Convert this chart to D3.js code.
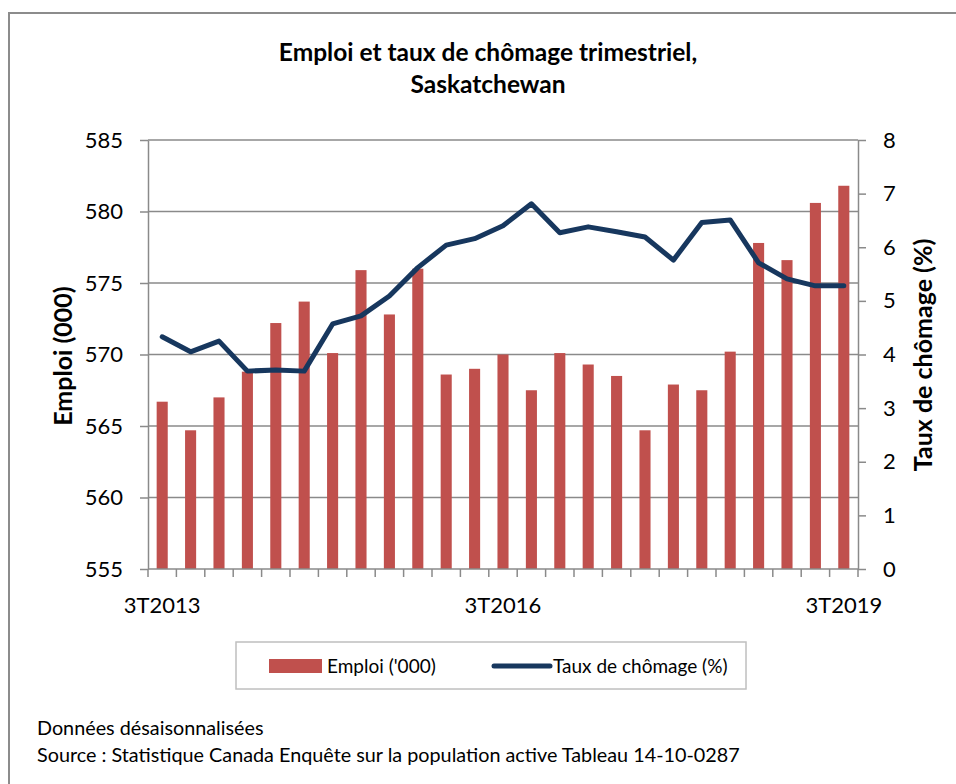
<!DOCTYPE html>
<html>
<head>
<meta charset="utf-8">
<script src="https://cdn.jsdelivr.net/npm/d3@7"></script>
<style>
  body { margin: 0; background: #fff; }
  text { font-family: Lato, "Open Sans", sans-serif; fill: #000; }
</style>
</head>
<body>
<div id="chart"></div>
<script>
// quarters, 3T2013 .. 3T2019
const quarters = [
    '3T2013', '4T2013', '1T2014', '2T2014', '3T2014', '4T2014', '1T2015', '2T2015', '3T2015',
    '4T2015', '1T2016', '2T2016', '3T2016', '4T2016', '1T2017', '2T2017', '3T2017', '4T2017',
    '1T2018', '2T2018', '3T2018', '4T2018', '1T2019', '2T2019', '3T2019'
];
const emploi = [
    566.7, 564.7, 567.0, 568.8, 572.2, 573.7, 570.1, 575.9, 572.8,
    576.0, 568.6, 569.0, 570.0, 567.5, 570.1, 569.3, 568.5, 564.7,
    567.9, 567.5, 570.2, 577.8, 576.6, 580.6, 581.8
];
const chomage = [
    4.33, 4.05, 4.25, 3.69, 3.71, 3.69, 4.57, 4.72, 5.09,
    5.62, 6.04, 6.16, 6.40, 6.81, 6.27, 6.38, 6.29, 6.19,
    5.76, 6.46, 6.51, 5.71, 5.41, 5.28, 5.28
];
const shownLabels = ['3T2013', '3T2016', '3T2019'];
const leftTicks = [555, 560, 565, 570, 575, 580, 585];
const rightTicks = [0, 1, 2, 3, 4, 5, 6, 7, 8];

const W = 956, H = 784;
const m = { top: 140, right: 98, bottom: 215, left: 148 };
const w = W - m.left - m.right, h = H - m.top - m.bottom;

const svg = d3.select('#chart').append('svg')
    .attr('width', W).attr('height', H);

// frame
svg.append('path')
    .attr('d', `M9,${H} V13 H${W}`)
    .attr('fill', 'none').attr('stroke', '#8c8c8c').attr('stroke-width', 2);

svg.append('text').attr('x', 488).attr('y', 61).attr('text-anchor', 'middle')
    .style('font-size', '24.5px').style('font-weight', 'bold')
    .text('Emploi et taux de chômage trimestriel,');
svg.append('text').attr('x', 488).attr('y', 93).attr('text-anchor', 'middle')
    .style('font-size', '24.5px').style('font-weight', 'bold')
    .text('Saskatchewan');

const g = svg.append('g').attr('transform', `translate(${m.left},${m.top})`);

const x = d3.scaleBand().domain(quarters).range([0, w]).paddingInner(0.61).paddingOuter(0.305);
const yL = d3.scaleLinear().domain([555, 585]).range([h, 0]);
const yR = d3.scaleLinear().domain([0, 8]).range([h, 0]);

// gridlines
g.selectAll('.grid').data(leftTicks.slice(1)).enter().append('line')
    .attr('x1', 0).attr('x2', w)
    .attr('y1', d => yL(d)).attr('y2', d => yL(d))
    .attr('stroke', '#8a8a8a').attr('stroke-width', 1.5);

// bars
g.selectAll('.bar').data(emploi).enter().append('rect')
    .attr('x', (d, i) => x(quarters[i]))
    .attr('width', x.bandwidth())
    .attr('y', d => yL(d))
    .attr('height', d => h - yL(d))
    .attr('fill', '#c0504d');

// line
g.append('path')
    .datum(chomage)
    .attr('d', d3.line().x((d, i) => x(quarters[i]) + x.bandwidth() / 2).y(d => yR(d)))
    .attr('fill', 'none').attr('stroke', '#17375e').attr('stroke-width', 5)
    .attr('stroke-linejoin', 'round').attr('stroke-linecap', 'round');

function styleAxis(sel) {
    sel.selectAll('path, line').attr('stroke', '#8a8a8a').attr('stroke-width', 1.5);
    sel.selectAll('text').style('font-size', '22px').style('font-family', 'Lato, "Open Sans", sans-serif');
}

g.append('g')
    .call(d3.axisLeft(yL).tickValues(leftTicks).tickSize(8).tickPadding(17).tickSizeOuter(0))
    .call(styleAxis);

g.append('g').attr('transform', `translate(${w},0)`)
    .call(d3.axisRight(yR).tickValues(rightTicks).tickSize(8).tickPadding(17).tickSizeOuter(0))
    .call(styleAxis);

// category axis: ticks at band boundaries
const step = x.step();
const bottom = g.append('g').attr('transform', `translate(0,${h})`);
bottom.append('line').attr('x1', 0).attr('x2', w).attr('stroke', '#8a8a8a').attr('stroke-width', 1.5);
bottom.selectAll('.tk').data(d3.range(quarters.length + 1)).enter().append('line')
    .attr('x1', i => i * step).attr('x2', i => i * step)
    .attr('y1', 0).attr('y2', 8)
    .attr('stroke', '#8a8a8a').attr('stroke-width', 1.5);
bottom.selectAll('.lbl').data(shownLabels).enter().append('text')
    .attr('x', d => x(d) + x.bandwidth() / 2)
    .attr('y', 44)
    .attr('text-anchor', 'middle')
    .style('font-size', '22px')
    .text(d => d);

// axis titles
svg.append('text')
    .attr('transform', 'translate(72,356) rotate(-90)')
    .attr('text-anchor', 'middle')
    .style('font-size', '25px').style('font-weight', 'bold')
    .text('Emploi (000)');
svg.append('text')
    .attr('transform', 'translate(932,355) rotate(-90)')
    .attr('text-anchor', 'middle')
    .style('font-size', '25px').style('font-weight', 'bold')
    .text('Taux de chômage (%)');

// legend
const lg = svg.append('g');
lg.append('rect').attr('x', 236).attr('y', 642).attr('width', 510).attr('height', 47)
    .attr('fill', '#fff').attr('stroke', '#bfbfbf').attr('stroke-width', 1.5);
lg.append('rect').attr('x', 269).attr('y', 659).attr('width', 53).attr('height', 14).attr('fill', '#c0504d');
lg.append('text').attr('x', 327).attr('y', 673).style('font-size', '19px').text("Emploi ('000)");
lg.append('line').attr('x1', 494).attr('x2', 550).attr('y1', 666).attr('y2', 666)
    .attr('stroke', '#17375e').attr('stroke-width', 5).attr('stroke-linecap', 'round');
lg.append('text').attr('x', 553).attr('y', 673).style('font-size', '19px').text('Taux de chômage (%)');

// notes
svg.append('text').attr('x', 37).attr('y', 735).style('font-size', '19.8px').text('Données désaisonnalisées');
svg.append('text').attr('x', 37).attr('y', 762).style('font-size', '19.8px')
    .text('Source : Statistique Canada Enquête sur la population active Tableau 14-10-0287');
</script>
</body>
</html>
